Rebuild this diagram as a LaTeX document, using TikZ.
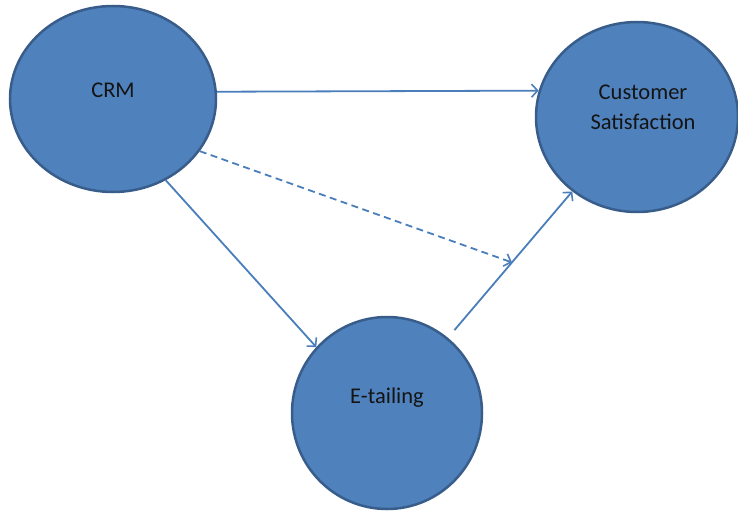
\documentclass[tikz,border=0pt]{standalone}
\usepackage{fontspec}
\setmainfont{Carlito}
\usetikzlibrary{shapes.geometric,arrows.meta}
\definecolor{ovalfill}{HTML}{4F81BD}
\definecolor{ovaldraw}{HTML}{385D8A}
\definecolor{linkcol}{HTML}{4A7EBB}
\begin{document}
\begin{tikzpicture}[x=1pt,y=-1pt,
  oval/.style={ellipse,draw=ovaldraw,fill=ovalfill,line width=2.5pt,inner sep=0pt},
  lbl/.style={font=\fontsize{22.5}{30}\selectfont,text=black!92,align=center},
  link/.style={draw=linkcol,line width=1.8pt,-{Straight Barb[length=6pt,width=13pt,line width=1.6pt]}},
  dlink/.style={link,dash pattern=on 7pt off 4.5pt}]
\useasboundingbox (0,0) rectangle (738,511);
\node[oval,minimum width=206pt,minimum height=186pt] (crm) at (113,99) {};
\node[oval,minimum width=202pt,minimum height=190pt] (cs) at (637,117) {};
\node[oval,minimum width=190pt,minimum height=192pt] (et) at (387,413) {};
\node[lbl] (crmt) at (113,90) {CRM};
\node[lbl] (cst) at (643,107) {Customer\\Satisfaction};
\node[lbl] (ett) at (387,398) {E-tailing};
\draw[link] (crm.4) -- (cs.165);
\draw[link] (crm.303) -- (et.137);
\draw[link,shorten <=10pt] (et.51) -- coordinate[pos=0.515] (mid) (cs.229);
\draw[dlink] (crm.-31) -- (mid);
\end{tikzpicture}
\end{document}
